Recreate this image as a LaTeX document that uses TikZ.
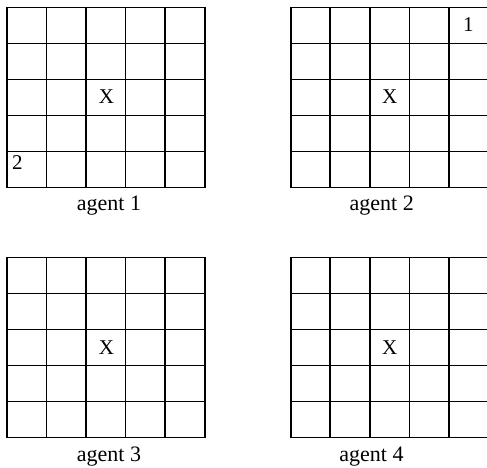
\documentclass[tikz,border=0pt]{standalone}
\usepackage{fontspec}
\setmainfont{Liberation Serif}
\newcommand\agentgrid[2]{%
  \draw[gridline] (#1,#2) rectangle ++(197.8,180);
  \foreach \i in {1,...,4}{%
    \draw[gridline] ({#1+\i*39.56},#2) -- ++(0,180);
    \draw[gridline] (#1,{#2+\i*36}) -- ++(197.8,0);
  }%
}
\begin{document}
\begin{tikzpicture}[x=1pt,y=-1pt,
  gridline/.style={line width=1.6pt},
  lbl/.style={font=\fontsize{22}{24}\selectfont, inner sep=0pt, anchor=base},
  celltext/.style={font=\fontsize{21}{24}\selectfont, inner sep=0pt, anchor=center}]
\useasboundingbox (0,0) rectangle (487,468);
\clip (0,0) rectangle (487,468);
\fill[white] (0,0) rectangle (487,468);
\agentgrid{7}{7.5}
\agentgrid{290.7}{7.5}
\agentgrid{7}{257.5}
\agentgrid{290.7}{257.5}
% cell contents
\node[celltext] (x1) at (106.5,97) {X};
\node[celltext] (x2) at (389.8,97) {X};
\node[celltext] (x3) at (106.5,347.5) {X};
\node[celltext] (x4) at (389.8,347.5) {X};
\node[celltext] (n2) at (17.5,163) {2};
\node[celltext] (n1) at (468.3,24.5) {1};
% labels
\node[lbl] (a1) at (109,210.5) {agent 1};
\node[lbl] (a2) at (381.7,210.5) {agent 2};
\node[lbl] (a3) at (109,461) {agent 3};
\node[lbl] (a4) at (371.5,461) {agent 4};
\end{tikzpicture}
\end{document}
